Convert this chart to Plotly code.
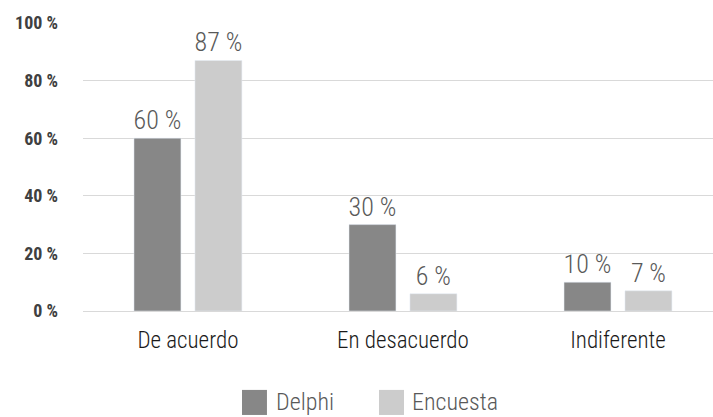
import plotly.graph_objects as go

categories = ["De acuerdo", "En desacuerdo", "Indiferente"]
delphi = [60, 30, 10]
encuesta = [87, 6, 7]
y_ticks = [0, 20, 40, 60, 80, 100]
y_tick_labels = ["0 %", "20 %", "40 %", "60 %", "80 %", "100 %"]
series_names = ["Delphi", "Encuesta"]
colors = ["#878787", "#cccccc"]

FONT = "Roboto Condensed, Liberation Sans Narrow, Arial Narrow, Roboto, sans-serif"

fig = go.Figure()
for name, vals, col in zip(series_names, [delphi, encuesta], colors):
    fig.add_trace(go.Bar(
        x=categories, y=vals, name=name, marker_color=col,
        text=[f"{v} %" for v in vals], textposition="outside",
        textfont=dict(family=FONT, size=26, color="#595959", weight=300),
        constraintext="none", cliponaxis=False, showlegend=False,
    ))

# legend drawn by hand so the swatches can be as big as in the original
legend_sq = [(0.2524, 0.292), (0.4698, 0.5095)]
legend_txt = [0.303, 0.519]
for name, col, (x0, x1), tx in zip(series_names, colors, legend_sq, legend_txt):
    fig.add_shape(type="rect", xref="paper", yref="paper",
                  x0=x0, x1=x1, y0=-0.361, y1=-0.274,
                  fillcolor=col, line_width=0)
    fig.add_annotation(text=name, xref="paper", yref="paper",
                       x=tx, y=-0.316, xanchor="left", yanchor="middle",
                       showarrow=False,
                       font=dict(family=FONT, size=24, color="#595959", weight=300))

fig.update_layout(
    width=713, height=417,
    margin=dict(l=83, r=0, t=23, b=106),
    paper_bgcolor="white", plot_bgcolor="white",
    barmode="group", bargap=0.433, bargroupgap=0.23,
    showlegend=False,
    font=dict(family=FONT),
)
fig.update_xaxes(
    range=[-0.488, 2.442], showgrid=False, showline=False, ticks="",
    tickfont=dict(family=FONT, size=23, color="#1a1a1a", weight=300),
    ticklabelstandoff=13,
)
fig.update_yaxes(
    range=[0, 100], tickmode="array", tickvals=y_ticks, ticktext=y_tick_labels,
    showgrid=True, gridcolor="#d9d9d9", gridwidth=1,
    zeroline=True, zerolinecolor="#d9d9d9", zerolinewidth=1,
    showline=False, ticks="",
    tickfont=dict(family=FONT, size=18, color="#404040", weight="bold"),
    ticklabelstandoff=24,
)

fig.write_html("out.html", config={"displayModeBar": False},
               post_script="document.body.style.margin='0';")
